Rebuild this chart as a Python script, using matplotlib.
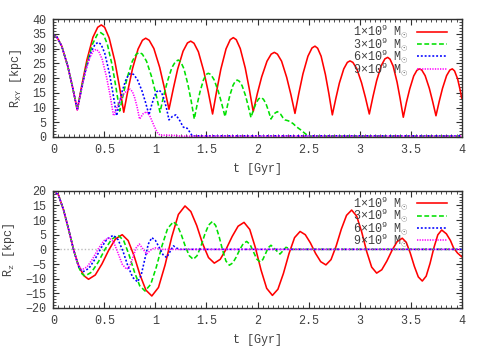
import matplotlib
matplotlib.use("Agg")
import matplotlib.pyplot as plt
from matplotlib.ticker import MultipleLocator

plt.rcParams['font.family'] = ['Liberation Mono', 'DejaVu Sans']
plt.rcParams['mathtext.fontset'] = 'custom'
plt.rcParams['mathtext.rm'] = 'Liberation Mono'
plt.rcParams['mathtext.it'] = 'Liberation Mono'

# ---------------- data: top panel R_XY [kpc] vs t [Gyr] ----------------
t_xy_1 = [0, 0.035, 0.082, 0.141, 0.188, 0.235, 0.282, 0.329, 0.388, 0.435, 0.47, 0.503, 0.547, 0.602, 0.646, 0.69,
          0.733, 0.776, 0.83, 0.873, 0.905, 0.939, 0.985, 1.042, 1.087, 1.133, 1.176, 1.218, 1.271, 1.314, 1.346,
          1.378, 1.421, 1.474, 1.517, 1.56, 1.601, 1.641, 1.692, 1.733, 1.763, 1.792, 1.831, 1.88, 1.919, 1.958,
          1.999, 2.041, 2.093, 2.134, 2.165, 2.195, 2.236, 2.286, 2.327, 2.367, 2.406, 2.445, 2.494, 2.534, 2.563,
          2.589, 2.623, 2.665, 2.699, 2.733, 2.768, 2.802, 2.845, 2.88, 2.906, 2.934, 2.972, 3.019, 3.057, 3.095,
          3.131, 3.167, 3.212, 3.248, 3.275, 3.298, 3.329, 3.367, 3.397, 3.428, 3.459, 3.491, 3.53, 3.561, 3.585,
          3.609, 3.642, 3.683, 3.715, 3.748, 3.78, 3.812, 3.852, 3.884, 3.908, 3.93, 3.96, 3.985, 4.0]
r_xy_1 = [34.6, 33.9, 30.9, 24.1, 17.0, 9.2, 18.1, 26.1, 33.8, 37.2, 38.0, 37.2, 33.6, 25.8, 17.5, 8.4,
          16.2, 23.2, 29.8, 32.8, 33.5, 32.8, 30.0, 23.6, 16.8, 9.4, 16.5, 23.0, 29.1, 31.9, 32.5,
          31.8, 28.9, 22.3, 15.4, 7.8, 15.8, 23.0, 29.9, 33.0, 33.7, 33.0, 30.0, 23.4, 16.4, 8.6,
          14.8, 20.4, 25.7, 28.1, 28.7, 28.1, 25.7, 20.2, 14.4, 8.0, 15.0, 21.4, 27.4, 30.2, 30.8,
          30.1, 27.4, 21.2, 14.7, 7.5, 13.2, 18.3, 23.1, 25.3, 25.8, 25.3, 23.2, 18.4, 13.4, 7.8,
          13.7, 19.1, 24.2, 26.5, 27.0, 26.4, 24.0, 18.6, 13.0, 6.7, 11.8, 16.3, 20.7, 22.6, 23.1,
          22.7, 20.8, 16.5, 12.1, 7.2, 12.1, 16.5, 20.8, 22.7, 23.1, 22.4, 19.7, 15.9, 13.2]

t_xy_3 = [0, 0.035, 0.082, 0.141, 0.188, 0.235, 0.281, 0.327, 0.384, 0.43, 0.464, 0.492, 0.529, 0.576, 0.613, 0.65,
          0.688, 0.727, 0.775, 0.813, 0.842, 0.872, 0.913, 0.964, 1.004, 1.045, 1.081, 1.117, 1.161, 1.197, 1.224,
          1.248, 1.279, 1.318, 1.35, 1.381, 1.408, 1.436, 1.47, 1.497, 1.518, 1.543, 1.575, 1.616, 1.649, 1.682,
          1.706, 1.73, 1.76, 1.784, 1.802, 1.822, 1.849, 1.882, 1.909, 1.936, 1.96, 1.985, 2.01, 2.034, 2.058,
          2.083, 2.107, 2.132, 2.163, 2.194, 2.225, 2.25, 2.27, 2.30, 2.32, 2.35, 2.38, 2.42, 2.465, 2.50, 4.0]
r_xy_3 = [34.6, 33.9, 30.9, 24.1, 17.0, 9.2, 17.3, 24.6, 31.5, 34.7, 35.4, 34.7, 31.5, 24.4, 17.0, 8.8,
          14.9, 20.5, 25.8, 28.1, 28.7, 28.1, 25.7, 20.3, 14.7, 8.4, 13.9, 18.8, 23.5, 25.6, 26.1,
          25.5, 23.2, 17.9, 12.3, 6.1, 10.9, 15.2, 19.3, 21.2, 21.6, 21.2, 19.4, 15.5, 11.4, 6.9,
          10.7, 14.2, 17.5, 19.0, 19.3, 18.9, 17.4, 14.1, 10.5, 6.6, 9.2, 11.4, 12.9, 13.4, 12.8,
          11.3, 8.9, 6.1, 7.9, 8.6, 7.8, 6.5, 5.8, 5.5, 5.2, 4.5, 3.5, 2.5, 1.2, 0.3, 0.3]

t_xy_6 = [0, 0.035, 0.082, 0.141, 0.188, 0.235, 0.276, 0.317, 0.369, 0.41, 0.441, 0.468, 0.504, 0.548, 0.584, 0.62,
          0.648, 0.676, 0.712, 0.74, 0.761, 0.787, 0.823, 0.867, 0.902, 0.937, 0.962, 0.986, 1.011, 1.035, 1.06,
          1.084, 1.109, 1.133, 1.167, 1.20, 1.24, 1.27, 1.29, 1.31, 1.34, 1.36, 4.0]
r_xy_6 = [34.6, 33.9, 30.9, 24.1, 17.0, 9.2, 16.3, 22.7, 28.7, 31.5, 32.1, 31.4, 28.4, 21.8, 14.9, 7.2,
          11.6, 15.7, 19.5, 21.2, 21.6, 21.2, 19.5, 15.8, 11.9, 7.5, 10.7, 13.4, 15.3, 15.9, 15.1,
          12.9, 9.7, 5.8, 7.0, 7.5, 5.5, 3.5, 3.0, 3.0, 1.5, 0.4, 0.4]

t_xy_9 = [0, 0.035, 0.082, 0.141, 0.188, 0.235, 0.272, 0.308, 0.354, 0.391, 0.418, 0.444, 0.478, 0.521, 0.556, 0.59,
          0.622, 0.655, 0.695, 0.728, 0.752, 0.775, 0.798, 0.822, 0.845, 0.88, 0.915, 0.95, 0.99, 1.02, 1.045,
          1.1, 1.2, 1.25, 4.0]
r_xy_9 = [34.6, 33.9, 30.9, 24.1, 17.0, 9.2, 15.5, 21.3, 26.7, 29.1, 29.7, 29.1, 26.4, 20.4, 14.2, 7.2,
          10.0, 12.5, 14.9, 15.9, 16.2, 15.4, 13.2, 10.0, 6.1, 7.9, 8.6, 6.8, 3.5, 1.5, 0.6,
          0.6, 0.5, 0.3, 0.3]

# ---------------- data: bottom panel R_z [kpc] vs t [Gyr] ----------------
t_z_1 = [0, 0.05, 0.10, 0.15, 0.20, 0.25, 0.30, 0.345, 0.411, 0.477, 0.543, 0.609, 0.675, 0.733, 0.791, 0.849,
         0.907, 0.965, 1.03, 1.095, 1.16, 1.225, 1.29, 1.347, 1.405, 1.462, 1.52, 1.577, 1.635, 1.693, 1.752,
         1.81, 1.868, 1.924, 1.979, 2.035, 2.09, 2.146, 2.2, 2.254, 2.309, 2.363, 2.417, 2.468, 2.518, 2.569,
         2.619, 2.67, 2.72, 2.771, 2.821, 2.872, 2.922, 2.971, 3.02, 3.069, 3.118, 3.167, 3.217, 3.267, 3.318,
         3.368, 3.418, 3.457, 3.496, 3.536, 3.575, 3.614, 3.652, 3.69, 3.728, 3.766, 3.804, 3.85, 3.89, 3.92,
         3.96, 4.0]
z_1 = [20, 18.6, 13.5, 6.8, -0.3, -5.8, -9.0, -10.2, -8.75, -4.95, -0.25, 3.55, 5.0, 3.0, -2.2, -8.7,
       -13.9, -15.9, -13.0, -5.3, 4.2, 11.9, 14.8, 12.9, 8.1, 2.0, -2.8, -4.7, -3.4, 0.1, 4.4,
       7.9, 9.2, 6.8, 0.6, -7.1, -13.3, -15.7, -13.6, -8.2, -1.4, 4.0, 6.1, 5.0, 2.2, -1.4,
       -4.2, -5.3, -3.5, 1.2, 6.9, 11.6, 13.4, 11.35, 6.0, -0.7, -6.05, -8.1, -6.96, -3.99, -0.31,
       2.66, 3.8, 2.4, -1.24, -5.76, -9.4, -10.8, -9.14, -4.79, 0.59, 4.94, 6.6, 5.3, 3.0, 0.5,
       -1.3, -2.5]

t_z_3 = [0, 0.05, 0.10, 0.15, 0.20, 0.25, 0.28, 0.31, 0.375, 0.441, 0.506, 0.572, 0.637, 0.689, 0.741, 0.794,
         0.846, 0.898, 0.954, 1.009, 1.065, 1.12, 1.176, 1.215, 1.254, 1.293, 1.332, 1.371, 1.408, 1.446, 1.483,
         1.521, 1.558, 1.591, 1.624, 1.658, 1.691, 1.724, 1.758, 1.792, 1.826, 1.86, 1.894, 1.927, 1.96, 1.992,
         2.025, 2.052, 2.079, 2.105, 2.132, 2.176, 2.22, 2.25, 2.279, 2.33, 4.0]
z_3 = [20, 18.6, 13.5, 6.8, -0.3, -6.2, -8.3, -9.1, -7.77, -4.3, 0.0, 3.47, 4.8, 3.0, -1.76, -7.64,
       -12.4, -14.2, -11.95, -6.05, 1.25, 7.15, 9.4, 8.18, 4.98, 1.02, -2.18, -3.4, -2.17, 1.06, 5.04,
       8.27, 9.5, 8.08, 4.35, -0.25, -3.98, -5.4, -4.63, -2.6, -0.1, 1.93, 2.7, 1.67, -0.8, -3.27,
       -4.3, -3.47, -1.45, 0.57, 1.4, -0.1, -1.6, -0.45, 0.7, 0, 0]

t_z_6 = [0, 0.05, 0.10, 0.15, 0.20, 0.245, 0.288, 0.348, 0.408, 0.468, 0.528, 0.588, 0.635, 0.683, 0.73, 0.778,
         0.825, 0.86, 0.895, 0.93, 0.965, 1.001, 1.038, 1.074, 1.11, 1.143, 1.176, 1.21, 1.24, 4.0]
z_6 = [20, 18.6, 13.5, 6.8, -0.3, -5.6, -7.7, -6.5, -3.38, 0.48, 3.6, 4.8, 3.28, -0.69, -5.61, -9.58,
       -11.1, -8.89, -3.55, 1.79, 4.0, 3.0, 0.6, -1.8, -2.8, -0.8, 1.2, 0.4, 0, 0]

t_z_9 = [0, 0.05, 0.10, 0.15, 0.20, 0.24, 0.278, 0.332, 0.386, 0.441, 0.495, 0.549, 0.592, 0.635, 0.677, 0.72,
         0.751, 0.782, 0.812, 0.843, 0.879, 0.914, 0.96, 1.0, 1.05, 4.0]
z_9 = [20, 18.6, 13.5, 6.8, -0.3, -5.0, -7.0, -5.95, -3.2, 0.2, 2.95, 4.0, 2.42, -1.4, -5.22, -6.8,
       -5.54, -2.5, 0.54, 1.8, 0.1, -1.6, 0, 0.5, 0, 0]

labels = [r"1$\times$10$^{9}$ M$_{\odot}$", r"3$\times$10$^{9}$ M$_{\odot}$",
          r"6$\times$10$^{9}$ M$_{\odot}$", r"9$\times$10$^{9}$ M$_{\odot}$"]
xticks = [0, 0.5, 1, 1.5, 2, 2.5, 3, 3.5, 4]
xticklabels = ["0", "0.5", "1", "1.5", "2", "2.5", "3", "3.5", "4"]

# ---------------- styles ----------------
colors = ['#ff0000', '#00e000', '#0000ff', '#ff00ff']
styles = ['-', (0, (3, 1.6)), (0, (1.2, 1.2)), (0, (0.8, 0.8))]
txtc = '#404040'

fig = plt.figure(figsize=(5, 3.5), dpi=100)
ax1 = fig.add_axes([0.1066, 0.6086, 0.8168, 0.337])
ax2 = fig.add_axes([0.1066, 0.1200, 0.8168, 0.3351])

top = [(t_xy_1, r_xy_1), (t_xy_3, r_xy_3), (t_xy_6, r_xy_6), (t_xy_9, r_xy_9)]
bot = [(t_z_1, z_1), (t_z_3, z_3), (t_z_6, z_6), (t_z_9, z_9)]

ax2.axhline(0, color='#bbbbbb', lw=1.0, ls=(0, (1, 1.5)), zorder=1)

for ax, series in ((ax1, top), (ax2, bot)):
    handles = []
    for (t, v), c, s, lab in zip(series, colors, styles, labels):
        h, = ax.plot(t, v, color=c, ls=s, lw=1.15, label=lab, zorder=2)
        handles.append(h)
    ax.set_xlim(0, 4)
    ax.set_xticks(xticks)
    ax.set_xticklabels(xticklabels)
    ax.xaxis.set_minor_locator(MultipleLocator(0.05))
    ax.yaxis.set_minor_locator(MultipleLocator(1))
    ax.tick_params(which='both', direction='in', top=True, right=True, colors='#303030',
                   labelcolor=txtc, labelsize=8.5)
    ax.tick_params(which='major', length=4, width=0.8, pad=5)
    ax.tick_params(which='minor', length=2, width=0.6)
    for sp in ax.spines.values():
        sp.set_color('#303030')
        sp.set_linewidth(1.0)
    leg = ax.legend(handles=handles, loc='upper right', bbox_to_anchor=(0.965, 0.97),
                    frameon=False, markerfirst=False,
                    fontsize=8.5, handlelength=2.6, labelspacing=-0.46, borderaxespad=0.0,
                    borderpad=0.0, handletextpad=0.7)
    for tx in leg.get_texts():
        tx.set_color(txtc)
    ax.set_xlabel("t [Gyr]", color=txtc, fontsize=8.5, labelpad=5)

ax1.set_ylim(0, 40)
ax1.set_yticks([0, 5, 10, 15, 20, 25, 30, 35, 40])
ax1.set_ylabel(r"R$_{\rm XY}$ [kpc]", color=txtc, fontsize=8.5, labelpad=6)
ax2.set_ylim(-20, 20)
ax2.set_yticks([-20, -15, -10, -5, 0, 5, 10, 15, 20])
ax2.set_ylabel(r"R$_{\rm z}$ [kpc]", color=txtc, fontsize=8.5, labelpad=6)

fig.savefig("out.png", dpi=100)
